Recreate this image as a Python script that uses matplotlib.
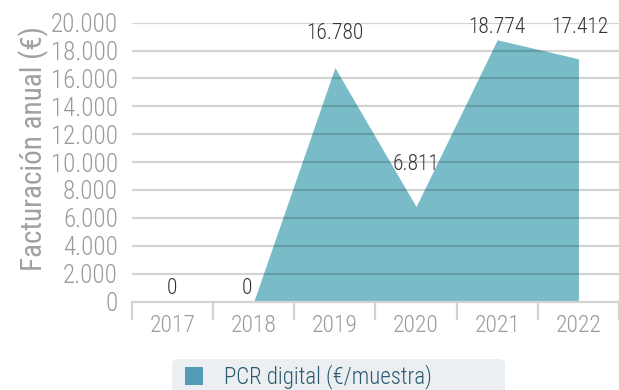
import matplotlib
matplotlib.use("Agg")
from matplotlib import pyplot as plt
from matplotlib import font_manager
from matplotlib.patches import FancyBboxPatch

years = ["2017", "2018", "2019", "2020", "2021", "2022"]
facturacion = [0, 0, 16780, 6811, 18774, 17412]
value_labels = ["0", "0", "16.780", "6.811", "18.774", "17.412"]
yticks = [0, 2000, 4000, 6000, 8000, 10000, 12000, 14000, 16000, 18000, 20000]
ytick_labels = ["0", "2.000", "4.000", "6.000", "8.000", "10.000", "12.000",
                "14.000", "16.000", "18.000", "20.000"]
legend_text = "PCR digital (€/muestra)"

# pick a narrow face if one is around
names = {f.name for f in font_manager.fontManager.ttflist}
family = "DejaVu Sans"
for cand in ["Roboto Condensed", "Liberation Sans Narrow", "DejaVu Sans"]:
    if cand in names:
        family = cand
        break
plt.rcParams["font.family"] = [family, "DejaVu Sans"]
plt.rcParams["font.weight"] = "light"

# label nudges (pixels) so the numbers sit clear of the area
label_dx = [-1, -7, 0, 0, 0, 1]
label_dy = [13, 13, 34, 42, 12, 31]

fig = plt.figure(figsize=(6.19, 3.90), dpi=100)
ax = fig.add_axes([132 / 619, 88.5 / 390, 487 / 619, 278.8 / 390])

x = list(range(len(years)))
ax.fill_between(x, facturacion, 0, color="#79bcc8", linewidth=0, zorder=1)

ax.set_ylim(0, 20000)
ax.set_xlim(-0.5, -0.5 + 487 / 83.2)
ax.set_yticks(yticks)
ax.set_yticklabels(ytick_labels)
for y in yticks[1:]:
    ax.axhline(y, color="black", alpha=0.17, linewidth=1.6, zorder=2)

ax.set_xticks(x)
ax.set_xticklabels(years)
ax.set_xticks([i - 0.5 for i in range(len(years) + 1)], minor=True)
ax.tick_params(axis="x", which="major", length=0, pad=9, labelsize=17,
               labelcolor="#9a9a9a")
ax.tick_params(axis="x", which="minor", length=13, width=1.6, color="#d3d3d3")
ax.tick_params(axis="y", length=0, pad=10, labelsize=18, labelcolor="#9a9a9a")

for side in ["top", "right", "left"]:
    ax.spines[side].set_visible(False)
ax.spines["bottom"].set_color("#d3d3d3")
ax.spines["bottom"].set_linewidth(1.6)

ax.set_ylabel("Facturación anual (€)", fontsize=21, color="#a0a0a0", va="center")
ax.yaxis.set_label_coords(-0.201, 0.549)

for i, (v, txt) in enumerate(zip(facturacion, value_labels)):
    ax.annotate(txt, (i, v), xytext=(label_dx[i] * 0.72, label_dy[i] * 0.72),
                textcoords="offset points", ha="center", va="center",
                fontsize=15.5, color="#333333", annotation_clip=False, zorder=3)

# legend strip along the bottom
box = FancyBboxPatch((172 / 619, -10 / 390), 333 / 619, 41 / 390,
                     boxstyle="round,pad=0,rounding_size=0.012",
                     transform=fig.transFigure, facecolor="#eceff2",
                     edgecolor="none", figure=fig)
fig.patches.append(box)
swatch = FancyBboxPatch((185 / 619, 5 / 390), 18 / 619, 18 / 390,
                        boxstyle="square,pad=0", transform=fig.transFigure,
                        facecolor="#5499b6", edgecolor="none", figure=fig)
fig.patches.append(swatch)
fig.text(224 / 619, 13 / 390, legend_text, fontsize=16.5, color="#2b5a70",
         va="center", ha="left")

fig.savefig("out.png", dpi=100)
